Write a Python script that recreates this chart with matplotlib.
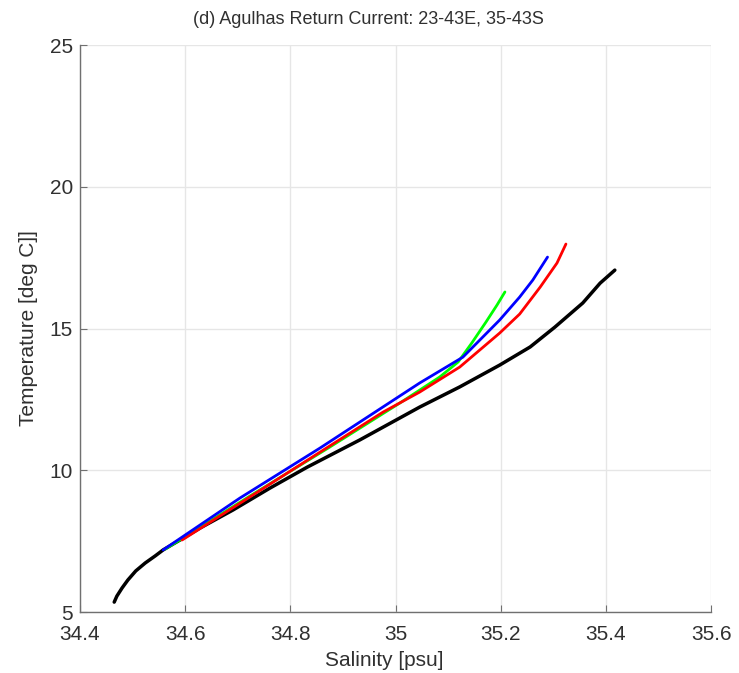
import matplotlib
matplotlib.use("Agg")
import matplotlib.pyplot as plt

plt.rcParams['font.family'] = ['Liberation Sans', 'DejaVu Sans']

# T-S curves (salinity in psu, temperature in deg C)
sal_black = [34.465, 34.470, 34.480, 34.491, 34.506, 34.524, 34.543, 34.558,
             34.590, 34.628, 34.691, 34.761, 34.832, 34.932, 35.046, 35.122,
             35.198, 35.256, 35.303, 35.356, 35.389, 35.417]
temp_black = [5.35, 5.56, 5.85, 6.13, 6.45, 6.73, 6.98, 7.19,
              7.54, 7.96, 8.60, 9.37, 10.11, 11.07, 12.23, 12.94,
              13.71, 14.35, 15.05, 15.90, 16.60, 17.06]

sal_green = [34.562, 34.723, 34.875, 35.008, 35.084, 35.119, 35.145, 35.172, 35.193, 35.208]
temp_green = [7.22, 9.09, 10.82, 12.37, 13.29, 13.82, 14.49, 15.23, 15.83, 16.29]

sal_red = [34.594, 34.723, 34.875, 34.976, 35.046, 35.122, 35.198, 35.236, 35.275, 35.307, 35.324]
temp_red = [7.54, 9.06, 10.86, 12.05, 12.76, 13.64, 14.84, 15.51, 16.46, 17.31, 17.98]

sal_blue = [34.558, 34.704, 34.856, 35.046, 35.128, 35.198, 35.236, 35.261, 35.289]
temp_blue = [7.19, 9.02, 10.78, 13.08, 13.99, 15.30, 16.11, 16.71, 17.52]

xticks = [34.4, 34.6, 34.8, 35.0, 35.2, 35.4, 35.6]
xticklabels = ['34.4', '34.6', '34.8', '35', '35.2', '35.4', '35.6']
yticks = [5, 10, 15, 20, 25]

fig = plt.figure(figsize=(7.39, 6.73), dpi=100)
ax = fig.add_axes([0.1083, 0.0906, 0.8539, 0.8425])

ax.plot(sal_black, temp_black, color='black', lw=2.5, solid_capstyle='round',
        solid_joinstyle='round')
ax.plot(sal_green, temp_green, color=(0, 1, 0), lw=2.0, solid_capstyle='round',
        solid_joinstyle='round')
ax.plot(sal_red, temp_red, color=(1, 0, 0), lw=2.0, solid_capstyle='round',
        solid_joinstyle='round')
ax.plot(sal_blue, temp_blue, color=(0, 0, 1), lw=2.0, solid_capstyle='round',
        solid_joinstyle='round')

ax.set_xlim(34.4, 35.6)
ax.set_ylim(5, 25)
ax.set_xticks(xticks)
ax.set_xticklabels(xticklabels)
ax.set_yticks(yticks)

ax.grid(True, color='#e6e6e6', lw=1.0)
ax.set_axisbelow(True)
for side in ['top', 'right']:
    ax.spines[side].set_visible(False)
for side in ['left', 'bottom']:
    ax.spines[side].set_color('#707070')
    ax.spines[side].set_linewidth(1.0)
ax.tick_params(direction='in', length=5, color='#707070', labelsize=15,
               labelcolor='#303030')
ax.tick_params(axis='x', pad=9)
ax.tick_params(axis='y', pad=5)

ax.set_xlabel('Salinity [psu]', fontsize=15, color='#303030')
ax.xaxis.set_label_coords(0.482, -0.068)
ax.set_ylabel('Temperature [deg C]]', fontsize=15, color='#303030')
ax.yaxis.set_label_coords(-0.067, 0.500)

fig.text(368 / 739, 1 - 20 / 673, '(d) Agulhas Return Current: 23-43E, 35-43S',
         ha='center', va='center', fontsize=13, color='#303030')

fig.savefig('out.png', dpi=100)
